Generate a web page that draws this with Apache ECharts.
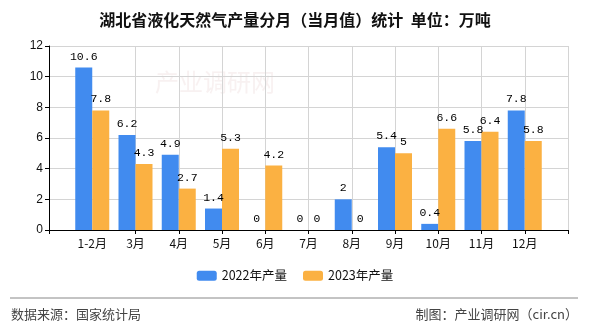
<!DOCTYPE html>
<html>
<head>
<meta charset="utf-8">
<script src="https://cdn.jsdelivr.net/npm/echarts@6/dist/echarts.min.js"></script>
<style>
html,body{margin:0;padding:0;background:#fff;}
#c{width:590px;height:330px;}
</style>
</head>
<body>
<div id="c"></div>
<script>
var categories = ['', '1-2月', '3月', '4月', '5月', '6月', '7月', '8月', '9月', '10月', '11月', '12月', ''];
var series2022 = [null, 10.6, 6.2, 4.9, 1.4, 0, 0, 2, 5.4, 0.4, 5.8, 7.8, null];
var series2023 = [null, 7.8, 4.3, 2.7, 5.3, 4.2, 0, 0, 5, 6.6, 6.4, 5.8, null];
var yTicks = [0, 2, 4, 6, 8, 10, 12];
var seriesNames = ['2022年产量', '2023年产量'];

var chart = echarts.init(document.getElementById('c'));
var cjk = '"Noto Sans CJK SC", sans-serif';
var labelStyle = {show: true, position: 'top', color: '#000', fontFamily: '"Liberation Mono", monospace', fontSize: 11.5, distance: 5};

chart.setOption({
  animation: false,
  title: {
    text: '湖北省液化天然气产量分月（当月值）统计  单位：万吨',
    left: 'center', top: 7,
    textStyle: {fontFamily: cjk, fontSize: 16, fontWeight: 'bold', color: '#111'}
  },
  legend: {
    data: seriesNames,
    bottom: 43, left: 'center',
    itemWidth: 20, itemHeight: 10, itemGap: 16,
    textStyle: {fontFamily: cjk, fontSize: 12.5, color: '#111'}
  },
  grid: {left: 49, right: 22, top: 46, bottom: 100, containLabel: false},
  xAxis: {
    type: 'category',
    data: categories,
    boundaryGap: false,
    axisLine: {lineStyle: {color: '#000', width: 1}},
    axisTick: {show: true, length: 4, lineStyle: {color: '#000'}, interval: function (i) { return i !== 1; }},
    axisLabel: {color: '#111', fontFamily: cjk, fontSize: 12, margin: 7, interval: 0},
    splitLine: {show: true, lineStyle: {color: '#d4d4d4'}, interval: function (i) { return i > 1; }}
  },
  yAxis: {
    type: 'value',
    min: yTicks[0], max: yTicks[yTicks.length - 1], interval: 2,
    axisLine: {show: true, lineStyle: {color: '#000'}},
    axisTick: {show: true, length: 4, lineStyle: {color: '#000'}},
    axisLabel: {color: '#111', fontFamily: '"Liberation Sans", sans-serif', fontSize: 12, margin: 6},
    splitLine: {show: true, lineStyle: {color: '#d4d4d4'}}
  },
  series: [
    {name: seriesNames[0], type: 'bar', data: series2022, barWidth: 17, barGap: '0%',
     itemStyle: {color: '#418bef'}, label: labelStyle},
    {name: seriesNames[1], type: 'bar', data: series2023, barWidth: 17, barGap: '0%',
     itemStyle: {color: '#fbb142'}, label: labelStyle}
  ],
  graphic: [
    {type: 'text', left: 155, top: 70, z: -1, silent: true, style: {text: '产业调研网', fill: 'rgba(235,215,215,0.35)', font: '24px "Noto Sans CJK SC", sans-serif'}},
    {type: 'line', shape: {x1: 10, y1: 298, x2: 578, y2: 298}, style: {stroke: '#888', lineWidth: 1}},
    {type: 'text', left: 11, top: 308, style: {text: '数据来源：国家统计局', fill: '#444', font: '13px "Noto Sans CJK SC", sans-serif'}},
    {type: 'text', right: 12, top: 308, style: {text: '制图：产业调研网（cir.cn）', fill: '#444', font: '13px "Noto Sans CJK SC", sans-serif'}}
  ]
});
</script>
</body>
</html>
